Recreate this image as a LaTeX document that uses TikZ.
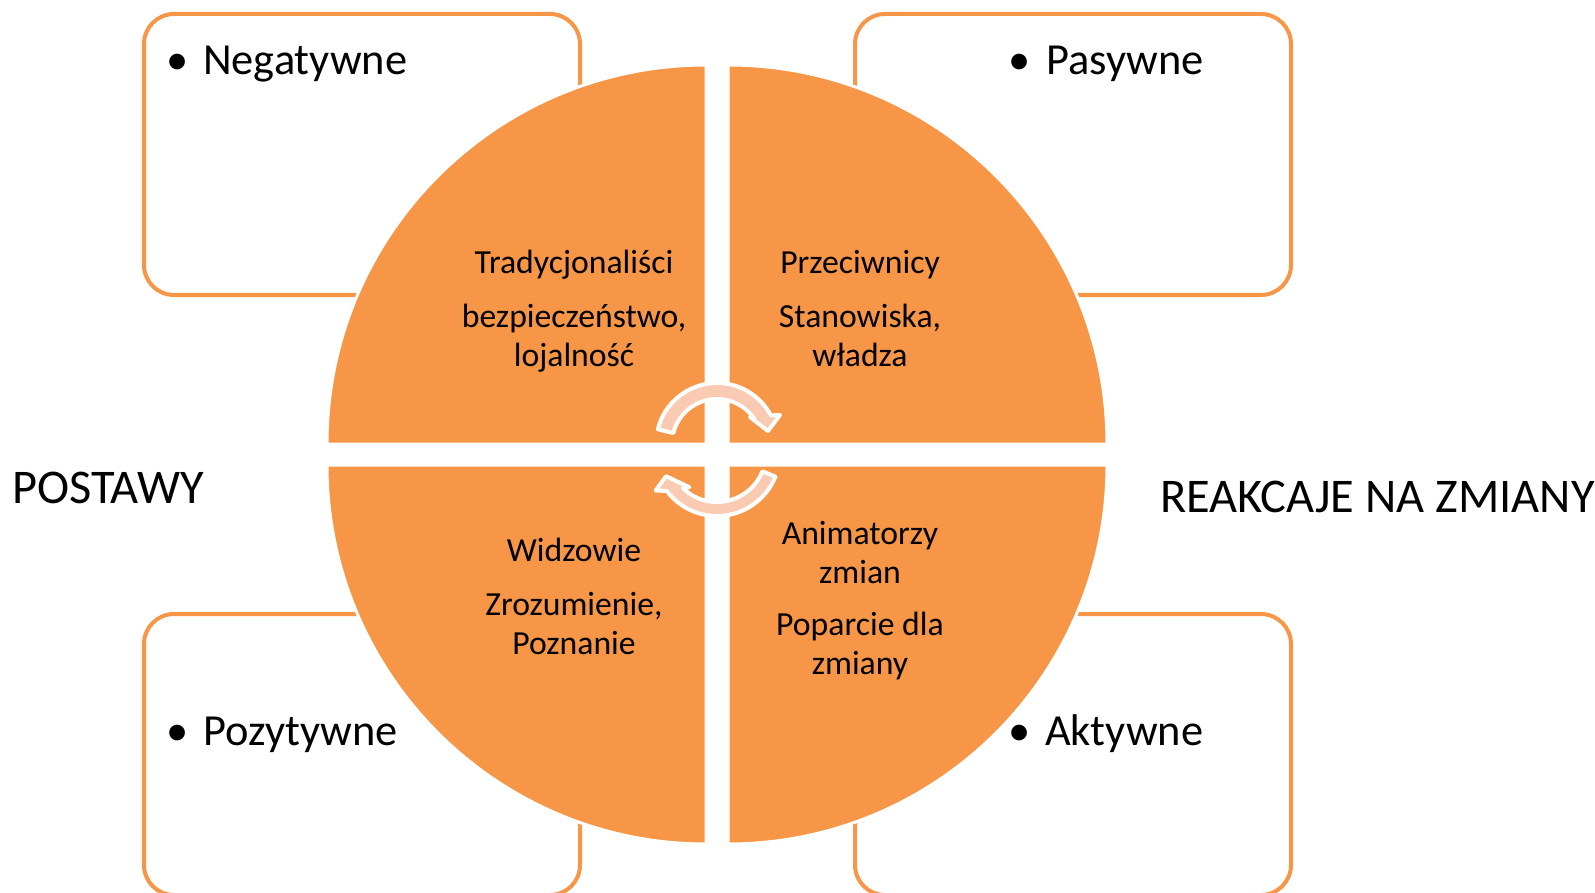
\documentclass[tikz,border=0pt]{standalone}
\usepackage{fontspec}
\setmainfont{Carlito}
\usetikzlibrary{calc}
\definecolor{accent}{HTML}{F79646}
\definecolor{peach}{HTML}{FACAB2}
\tikzset{
  panel/.style={draw=accent, line width=4pt, fill=white, rounded corners=30pt},
  quarter/.style={fill=accent, draw=white, line width=3pt},
  cycarrow/.style={fill=peach, draw=white, line width=4pt, line join=round},
  item/.style={anchor=base west, inner sep=0pt, font=\fontsize{44.4}{50}\selectfont},
  dot/.style={anchor=base, inner sep=0pt, font=\fontsize{44.4}{50}\selectfont},
  axis/.style={anchor=base west, inner sep=0pt, font=\fontsize{48.4}{54}\selectfont},
  qtext/.style={anchor=base, inner sep=0pt, font=\fontsize{33.7}{39}\selectfont},
}
\begin{document}
\begin{tikzpicture}[x=1pt, y=-1pt]
\useasboundingbox (0,0) rectangle (1595,893);

% four outlined panels behind the circle
\draw[panel] (144,14) rectangle (580,295);
\draw[panel] (855,14) rectangle (1291,295);
\draw[panel] (144,614) rectangle (580,895);
\draw[panel] (855,614) rectangle (1291,895);

% circle split into four quarters
\coordinate (ctl) at (706,444);
\coordinate (ctr) at (728,444);
\coordinate (cbl) at (706,465);
\coordinate (cbr) at (728,465);
\filldraw[quarter] (ctl) -- ++(-379,0) arc[start angle=180, end angle=270, radius=379] -- cycle;
\filldraw[quarter] (ctr) -- ++(0,-379) arc[start angle=270, end angle=360, radius=379] -- cycle;
\filldraw[quarter] (cbr) -- ++(379,0) arc[start angle=0, end angle=90, radius=379] -- cycle;
\filldraw[quarter] (cbl) -- ++(0,379) arc[start angle=90, end angle=180, radius=379] -- cycle;

% two curved arrows in the middle
\coordinate (ua) at (717,444);
\coordinate (la) at (717,453);
\filldraw[cycarrow] ($(ua)+(-166:61)$) arc[start angle=-166, end angle=-28, radius=61]
  -- ($(ua)+(-24.7:69.4)$) -- ($(ua)+(-14.3:52.6)$) -- ($(ua)+(-39.3:42.6)$) -- ($(ua)+(-34:45)$)
  arc[start angle=-34, end angle=-166, radius=45] -- cycle;
\filldraw[cycarrow] ($(la)+(22:63)$) arc[start angle=22, end angle=143, radius=63]
  -- ($(la)+(148.6:72)$) -- ($(la)+(155.5:56)$) -- ($(la)+(129:44)$) -- ($(la)+(134:49)$)
  arc[start angle=134, end angle=22, radius=49] -- cycle;

% bullet items in the panels
\node[dot] (b1) at (178,75) {•};
\node[item] (neg) at (203,75) {Negatywne};
\node[dot] (b2) at (1020,75) {•};
\node[item] (pas) at (1046,75) {Pasywne};
\node[dot] (b3) at (178,745) {•};
\node[item] (poz) at (203,745) {Pozytywne};
\node[dot] (b4) at (1020,745) {•};
\node[item] (akt) at (1045,745) {Aktywne};

% side captions
\node[axis] (post) at (12,503) {POSTAWY};
\node[axis] (reak) at (1160,512) {REAKCAJE NA ZMIANY};

% quarter labels
\node[qtext] (t1) at (574,273) {Tradycjonaliści};
\node[qtext] (t2) at (574,327) {bezpieczeństwo,};
\node[qtext] (t3) at (574,366) {lojalność};
\node[qtext] (r1) at (860,273) {Przeciwnicy};
\node[qtext] (r2) at (860,327) {Stanowiska,};
\node[qtext] (r3) at (860,366) {władza};
\node[qtext] (w1) at (574,561) {Widzowie};
\node[qtext] (w2) at (574,615) {Zrozumienie,};
\node[qtext] (w3) at (574,654) {Poznanie};
\node[qtext] (a1) at (860,544) {Animatorzy};
\node[qtext] (a2) at (860,583) {zmian};
\node[qtext] (a3) at (860,635) {Poparcie dla};
\node[qtext] (a4) at (860,674) {zmiany};
\end{tikzpicture}
\end{document}
